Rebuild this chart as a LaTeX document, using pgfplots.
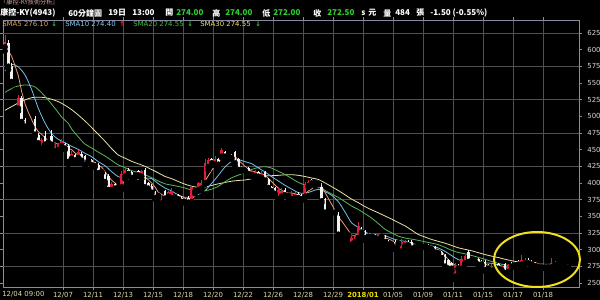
\documentclass[border=0pt]{standalone}
\usepackage{pgfplots}
\usepackage{pgfplotstable}
\pgfplotsset{compat=1.18}
\usepackage{fontspec}
\setmainfont{DejaVu Sans}
\newfontfamily\cjk{Noto Sans CJK TC}
\definecolor{candlered}{HTML}{E0203A}
\definecolor{candlewhite}{HTML}{F2F2F2}
\definecolor{smaA}{HTML}{E89A70}
\definecolor{smaB}{HTML}{78BFE8}
\definecolor{smaC}{HTML}{58B858}
\definecolor{smaD}{HTML}{E8E2A8}
\definecolor{gridcol}{HTML}{505050}
\definecolor{framecol}{HTML}{8A8AA0}
\definecolor{ylab}{HTML}{D8D8D8}
\definecolor{xlab}{HTML}{E0D8A8}
\definecolor{legA}{HTML}{E8A050}
\definecolor{legB}{HTML}{80C8F0}
\definecolor{legC}{HTML}{40C040}
\definecolor{legD}{HTML}{F0E060}
\definecolor{hgreen}{HTML}{30D030}
\definecolor{ared}{HTML}{FF3030}
\definecolor{ellcol}{HTML}{F0E020}
\definecolor{titlecol}{HTML}{D0A8A0}
\definecolor{yr}{HTML}{F0E000}

\pgfplotstableread{
i o h l c
0 604 622 598 612
4 512 532 508 528
11 452 468 448 465
15 448 462 444 458
16 450 460 446 457
17 456 466 452 463
20 437 448 434 444
22 438 450 436 446
32 390 402 386 398
35 394 418 390 414
36 410 424 406 420
41 410 420 406 418
47 370 382 364 378
49 380 388 378 386
50 378 392 374 388
56 372 396 370 394
57 388 394 384 392
58 390 402 388 400
59 392 404 388 400
60 400 436 398 430
61 424 438 420 434
63 428 440 426 436
65 440 453 438 450
74 412 420 410 418
75 410 420 408 416
77 408 418 406 414
82 376 394 374 390
83 380 392 378 388
86 376 388 374 384
87 378 386 376 384
90 380 402 378 398
91 396 404 394 402
104 308 322 300 318
105 312 324 308 320
106 318 342 314 336
112 316 324 314 322
119 298 316 292 312
120 306 314 304 312
135 260 280 255 276
137 272 290 268 286
138 280 292 278 290
146 268 278 266 274
147 272 280 270 277
149 270 278 268 275
151 267 278 266 274
155 278 292 276 285
156 280 288 278 285
164 274 288 273 280
}\upt

\pgfplotstableread{
i o h l c
1 610 614 570 575
2 575 580 548 552
3 541 543 536 539
5 528 530 490 492
6 494 498 482 485
7 487 489 483 485
8 486 488 482 484
9 496 500 470 473
10 472 475 458 460
12 470 478 455 458
13 463 465 458 461
14 470 480 455 458
18 458 460 450 452
19 456 458 428 432
21 442 444 430 434
23 444 446 430 434
24 440 442 424 428
25 436 437 432 434
26 434 436 424 427
27 430 432 424 426
28 427 430 412 415
29 419 420 414 417
30 414 416 398 402
31 410 414 386 390
33 398 400 388 392
34 396 397 392 394
37 420 422 410 414
38 416 418 406 408
39 412 413 408 410
40 418 420 410 412
42 420 422 390 394
43 400 402 388 392
44 396 398 384 386
45 386 388 376 378
46 383 384 378 381
48 388 390 374 377
51 382 384 376 379
52 382 384 374 376
53 378 380 370 372
54 376 378 370 372
55 378 380 368 371
62 436 438 428 430
64 436 438 426 428
66 446 448 438 440
67 442.5 443 439 441
68 442 444 436 438
69 446 448 426 430
70 436 438 418 420
71 424 426 418 420
72 421 422 418 419
73 422 424 412 414
76 416 418 408 410
78 416 418 400 404
79 406 408 390 393
80 394 396 386 388
81 392 394 380 384
84 390 392 380 382
85 383 384 378 381
88 384 386 376 378
89 382 384 374 376
92 404 406 398 400
93 401 402 396 399
94 404 406 398 400
95 394 400 370 373
96 376 378 354 356
97 357.5 358 355 356
98 357.5 358 355 356
99 357.5 358 355 356
100 350 356 320 323
101 323.5 324 321 322
102 323.5 324 321 322
103 323.5 324 321 322
107 330 334 324 326
108 328 330 314 318
109 321.5 322 318 320
110 321.5 322 318 320
111 322 324 316 318
113 322 324 318 320
114 320 322 308 312
115 312 314 306 308
116 309.5 310 307 308
117 312 314 300 303
118 311.5 312 308 310
121 312 314 304 307
122 312 314 298 302
123 306 308 302 304
124 306.5 307 304 305
125 306.5 307 304 305
126 305.5 306 303 304
127 306 308 302 303
128 304 306 300 301
129 304 306 294 296
130 298 300 294 295
131 296 298 286 288
132 292 294 272 275
133 284 286 270 272
134 280 282 268 272
136 276 278 270 272
139 296 300 280 282
140 286 288 282 284
141 284.5 285 282 283
142 286 288 276 278
143 282 284 276 278
144 282 284 268 270
145 276 278 270 272
148 278 280 270 272
150 278 280 262 265
152 279 281 273 275
153 281 283 276 277
154 282 284 277 278
157 285 287 279 280
158 282 284 276 278
159 280 281 274 276
160 279 280 273 275
161 278 279 272 274
162 278 279 272 274
163 277 278 272 274
165 281 283 276 278
166 280 281 275 277
167 279 280 274 276
168 278 279 273 275
169 274 274 272 272.5
}\dnt

\begin{document}
\begin{tikzpicture}[x=0.75pt,y=0.75pt]
\useasboundingbox (0,0) rectangle (600,300);
\fill[black] (0,0) rectangle (600,300);
\begin{axis}[
  at={(2.25pt,9.75pt)}, anchor=south west,
  scale only axis, width=432pt, height=200.25pt,
  xmin=-0.6, xmax=172.2, ymin=244, ymax=644.5,
  axis line style={draw=framecol, line width=0.5pt},
  tick style={draw=framecol, line width=0.4pt},
  tick align=outside, major tick length=2.25pt,
  ytick={250,275,...,625},
  yticklabel pos=right,
  yticklabel style={font=\fontsize{5.2}{6}\selectfont, text=ylab, xshift=0.5pt},
  /pgf/number format/assume math mode=true,
  extra y ticks={275,325,375,425,475,525,575,625},
  extra y tick labels={},
  extra y tick style={grid=major, tick style={draw=none}},
  xtick={17.4,26.4,35.4,44.4,53.4,62.4,71.4,80.4,89.4,98.4,107.4,116.4,125.4,134.4,143.4,152.4,161.4},
  xticklabels={12/07,12/11,12/13,12/15,12/18,12/20,12/22,12/26,12/28,12/29,{\color{yr}\bfseries 2018/01},01/05,01/09,01/11,01/15,01/17,01/18},
  xticklabel style={font=\fontsize{5.2}{6}\selectfont, text=xlab, yshift=1.5pt},
  xmajorgrids,
  major grid style={draw=gridcol, line width=0.45pt},
  clip=true,
]
% SMA30
\addplot[smaD, line width=0.6pt, mark=none, smooth] coordinates {
(0,509)(4,520)(8,528)(12,528)(16,522)(20,510)(24,493)(27,478)(30,462.7)(32,451.5)(34,442)(36,437.3)(38,432.5)(40,428.8)(42,425)(44,420.2)(46,415.2)(48,409.8)(50,406.5)(52,402.2)(54,398.2)(56,395.2)(58,393.5)(60,394)(62,396.3)(64,398.8)(66,400.8)(68,402.7)(70,403.8)(72,404.5)(74,406.3)(76,408.7)(78,410.7)(80,411)(82,411.5)(84,412.3)(86,412.5)(88,411.5)(90,409.7)(92,407.5)(94,405.3)(96,400.2)(98,394.5)(100,388.7)(102,382.3)(104,375.7)(106,370.5)(108,364.5)(110,359.7)(112,355.3)(114,350.5)(116,345.8)(118,340.7)(120,335.7)(122,329.3)(124,322.7)(126,319)(128,315.3)(130,312.5)(132,309.7)(134,306.3)(136,302.8)(138,300.5)(140,298.3)(142,295.5)(144,292.7)(146,290.3)(148,288.2)(150,285.6)(152,283.4)(154,281.7)(156,280.3)(158,278.8)(160,277.6)(162,277)(164,277.3)(166,277.5)(168,276.7)(169,276.5)};
% SMA20
\addplot[smaC, line width=0.6pt, mark=none, smooth] coordinates {
(0,536)(3,544)(6,547)(9,544)(12,530)(15,512)(17,499)(19,489.3)(20,481)(22,469)(24,458.3)(26,452.5)(28,446.3)(30,440.5)(32,433.8)(34,427)(36,423.3)(38,418.5)(40,415.8)(42,412.3)(44,408)(46,403)(48,398.8)(50,396.8)(52,394.8)(54,392.5)(56,389.3)(58,387.8)(60,388.3)(62,390.8)(64,395)(66,401.8)(68,407.8)(70,411.8)(72,415.8)(74,420.3)(76,423.3)(78,424.5)(80,422.3)(82,417.5)(84,412.8)(86,406.8)(88,401)(90,397)(92,395.3)(94,393.5)(96,389)(98,383.5)(100,378.3)(102,372)(104,365.3)(106,360.3)(108,354)(110,347.3)(112,339.3)(114,330.5)(116,325.3)(118,320.3)(120,317.5)(122,315.8)(124,314)(126,311.8)(128,309.8)(130,307.5)(132,303.5)(134,299)(136,295.8)(138,293.8)(140,291.3)(142,288.5)(144,285.5)(146,282.3)(148,279.5)(150,277.2)(152,276.4)(154,277)(156,277.9)(158,277.2)(160,276.4)(162,275.7)(164,276)(166,276.5)(168,276.6)(169,276.5)};
% SMA10
\addplot[smaB, line width=0.6pt, mark=none, smooth] coordinates {
(0,568)(2,578)(4,574)(6,562)(8,540)(10,512)(12,490)(14,474)(16,465.5)(18,460.5)(20,455)(22,450.5)(24,444.5)(26,439.5)(28,432)(30,426)(32,417)(34,409.5)(36,407)(38,405)(40,405.5)(42,407.5)(44,406.5)(46,399)(48,392.5)(50,388)(52,382)(54,378.5)(56,379.5)(58,383)(60,388.5)(62,399.5)(64,411.5)(66,424)(68,432.5)(70,435)(72,432)(74,429)(76,422.5)(78,416.5)(80,409.5)(82,403)(84,396.5)(86,391)(88,385.5)(90,384.5)(92,387.5)(94,390.5)(96,387)(98,381.5)(100,372)(102,356.5)(104,340)(106,333.5)(108,326.5)(110,322.5)(112,322)(114,321)(116,317)(118,314)(120,312.5)(122,309.5)(124,307)(126,306.5)(128,305.5)(130,302.5)(132,297.5)(134,291)(136,285)(138,282)(140,280)(142,279.5)(144,280)(146,279.5)(148,277)(150,274.3)(152,273.2)(154,274)(156,276.3)(158,277.3)(160,278.4)(162,278.2)(164,278)(166,276.6)(168,275.8)(169,275.5)};
% SMA5
\addplot[smaA, line width=0.6pt, mark=none] coordinates {
(0,600)(1,598)(2,590)(3,576)(4,561)(5,537)(6,519)(7,506)(8,495)(9,484)(10,477)(11,473)(12,468)(13,463)(14,460)(15,460)(16,458)(17,459)(18,458)(19,452)(20,450)(21,445)(22,442)(23,438)(24,437)(25,435)(26,434)(27,430)(28,426)(29,424)(30,417)(31,410)(32,404)(33,400)(34,395)(35,398)(36,404)(37,407)(38,410)(39,413)(40,413)(41,412)(42,408)(43,405)(44,400)(45,394)(46,386)(47,383)(48,380)(49,380)(50,382)(51,382)(52,381)(53,380)(54,377)(55,374)(56,377)(57,380)(58,386)(59,391)(60,403)(61,411)(62,419)(63,426)(64,432)(65,436)(66,437)(67,439)(68,439)(69,440)(70,434)(71,430)(72,425)(73,421)(74,418)(75,417)(76,415)(77,414)(78,412)(79,407)(80,402)(81,397)(82,392)(83,389)(84,386)(85,385)(86,385)(87,384)(88,382)(89,381)(90,384)(91,388)(92,391)(93,395)(94,400)(95,395)(96,386)(97,377)(98,368)(99,359)(100,349)(101,343)(102,336)(103,329)(104,321)(105,321)(106,324)(107,324)(108,324)(109,324)(110,324)(111,320)(112,320)(113,320)(114,318)(115,316)(116,314)(117,310)(118,308)(119,308)(120,309)(121,309)(122,309)(123,307)(124,306)(125,305)(126,304)(127,304)(128,304)(129,302)(130,300)(131,297)(132,291)(133,285)(134,280)(135,277)(136,273)(137,276)(138,279)(139,281)(140,283)(141,285)(142,283)(143,281)(144,279)(145,276)(146,274)(147,274)(148,273)(149,274)(150,272.6)(151,272.6)(152,272.4)(153,273.4)(154,274)(155,278)(156,280)(157,281)(158,281.2)(159,280.8)(160,278.8)(161,276.8)(162,275.4)(163,274.6)(164,275.2)(165,275.8)(166,276.4)(167,276.8)(168,277)(169,275.7)};
% wicks
\addplot[only marks, mark=none, forget plot, error bars/.cd, y dir=plus, y explicit, error mark=none,
  error bar style={draw=candlered, line width=0.65pt}]
  table[x=i, y=l, y error expr=\thisrow{h}-\thisrow{l}] {\upt};
\addplot[only marks, mark=none, forget plot, error bars/.cd, y dir=plus, y explicit, error mark=none,
  error bar style={draw=candlewhite, line width=0.65pt}]
  table[x=i, y=l, y error expr=\thisrow{h}-\thisrow{l}] {\dnt};
% bodies
\addplot[only marks, mark=none, forget plot, error bars/.cd, y dir=plus, y explicit, error mark=none,
  error bar style={draw=candlered, line width=2.1pt}]
  table[x=i, y=o, y error expr=\thisrow{c}-\thisrow{o}] {\upt};
\addplot[only marks, mark=none, forget plot, error bars/.cd, y dir=plus, y explicit, error mark=none,
  error bar style={draw=candlewhite, line width=2.1pt}]
  table[x=i, y=c, y error expr=\thisrow{o}-\thisrow{c}] {\dnt};
\end{axis}
% annotation ellipse
\draw[ellcol, line width=1.5pt] (537,40.5) ellipse [x radius=43, y radius=27.5];
% first x label
\node[anchor=west, inner sep=0, font=\fontsize{5.2}{6}\selectfont, text=xlab] at (2,5.5) {12/04 09:00};
% title line
\node[anchor=west, inner sep=0, font=\cjk\fontsize{4.6}{5}\selectfont, text=titlecol] at (0,298) {『康控-KY技術分析』};
% header line
\begin{scope}[every node/.style={anchor=west, inner sep=0, font=\cjk\bfseries\fontsize{6}{7}\selectfont, text=white}]
\node at (0,287) {康控-KY(4943)};
\node at (68,287) {60分鐘圖};
\node at (108,287) {19日};
\node at (132,287) {13:00};
\node at (165,287) {開};
\node[text=hgreen] at (176,287) {274.00};
\node at (212,287) {高};
\node[text=hgreen] at (225,287) {274.00};
\node at (262,287) {低};
\node[text=hgreen] at (273,287) {272.00};
\node at (313,287) {收};
\node[text=hgreen] at (327,287) {272.50};
\node at (361,287) {s};
\node at (368,287) {元};
\node at (383,287) {量};
\node at (395,287) {484};
\node at (416,287) {張};
\node at (430,287) {-1.50 (-0.55\%)};
\end{scope}
% legend line
\begin{scope}[every node/.style={anchor=west, inner sep=0, font=\fontsize{5.2}{6}\selectfont}]
\node[text=legA] at (2,276) {SMA5 276.10};
\node[text=hgreen, font=\bfseries\fontsize{5}{6}\selectfont] at (51,276) {↓};
\node[text=legB] at (65,276) {SMA10 274.40};
\node[text=ared, font=\bfseries\fontsize{5}{6}\selectfont] at (119,276) {↑};
\node[text=legC] at (133,276) {SMA20 274.55};
\node[text=hgreen, font=\bfseries\fontsize{5}{6}\selectfont] at (187,276) {↓};
\node[text=legD] at (200,276) {SMA30 274.55};
\node[text=hgreen, font=\bfseries\fontsize{5}{6}\selectfont] at (255,276) {↓};
\end{scope}
\end{tikzpicture}
\end{document}
